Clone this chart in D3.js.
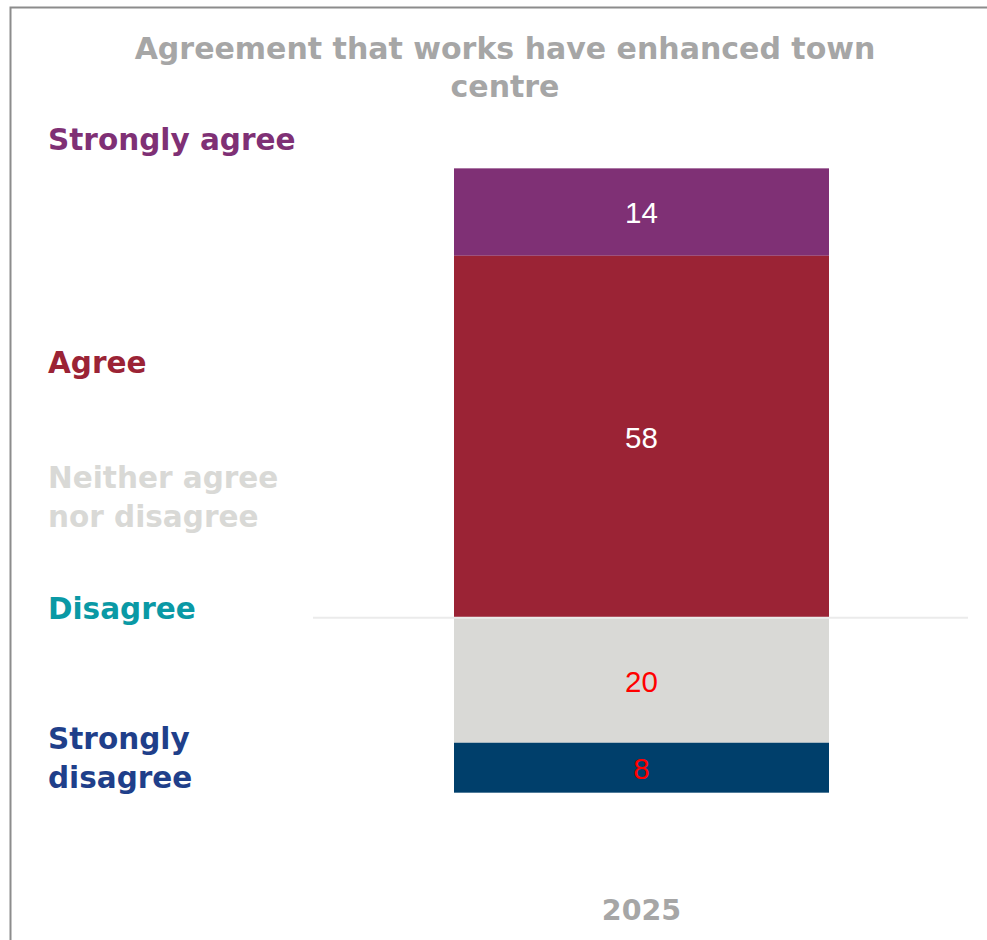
<!DOCTYPE html>
<html>
<head>
<meta charset="utf-8">
<script src="https://cdn.jsdelivr.net/npm/d3@7"></script>
<style>
  html, body { margin: 0; padding: 0; background: #fff; }
  svg { display: block; }
</style>
</head>
<body>
<svg id="chart" width="987" height="940"></svg>
<script>
// Survey responses for a single year, stacked around zero
const years = ["2025"];
const responses = ["Strongly agree", "Agree", "Neither agree nor disagree", "Disagree", "Strongly disagree"];
const values2025 = [14, 58, 20, 0, 8];
// agreement stacks above the zero line, the rest below it
const direction = [1, 1, -1, -1, -1];
const barColors = ["#7f3075", "#9b2335", "#d9d9d6", "#0097a7", "#003f6b"];
const labelColors = ["#7f3075", "#9b2335", "#d9d9d6", "#0a99a5", "#1f3f8a"];
const valueColors = ["#ffffff", "#ffffff", "#ff0000", "#ff0000", "#ff0000"];
const legendLines = [["Strongly agree"], ["Agree"], ["Neither agree", "nor disagree"], ["Disagree"], ["Strongly", "disagree"]];
const titleLines = ["Agreement that works have enhanced town", "centre"];

const svg = d3.select("#chart");
const W = 987, H = 940;

// frame on the top and left edges
svg.append("path")
  .attr("d", `M10.5,${H} V7.5 H${W}`)
  .attr("fill", "none")
  .attr("stroke", "#8c8c8c")
  .attr("stroke-width", 2);

const y = d3.scaleLinear().domain([-40, 80]).range([867.6, 118.4]);
const x = d3.scaleBand().domain(years).range([454, 829]).padding(0);

// build stacked segments: agreement grows upward from zero (Agree first),
// the remaining answers grow downward from zero
const segments = responses.map((r, i) => ({ name: r, value: values2025[i], i }));
let posBase = 0;
for (let i = responses.length - 1; i >= 0; i--) {
  if (direction[i] > 0) {
    segments[i].y0 = posBase;
    segments[i].y1 = posBase + values2025[i];
    posBase = segments[i].y1;
  }
}
let negBase = 0;
for (let i = 0; i < responses.length; i++) {
  if (direction[i] < 0) {
    segments[i].y1 = negBase;
    segments[i].y0 = negBase - values2025[i];
    negBase = segments[i].y0;
  }
}

const font = "'DejaVu Sans', sans-serif";

// title
svg.append("g").selectAll("text")
  .data(titleLines)
  .join("text")
  .attr("x", 505)
  .attr("y", (d, i) => 59 + i * 38)
  .attr("text-anchor", "middle")
  .attr("font-family", font)
  .attr("font-weight", "bold")
  .attr("font-size", 30)
  .attr("fill", "#a6a6a6")
  .text(d => d);

// bars
svg.append("g").selectAll("rect")
  .data(segments.filter(d => d.value > 0))
  .join("rect")
  .attr("x", x("2025"))
  .attr("width", x.bandwidth())
  .attr("y", d => y(d.y1))
  .attr("height", d => y(d.y0) - y(d.y1))
  .attr("fill", d => barColors[d.i]);

// zero line
svg.append("line")
  .attr("x1", 313).attr("x2", 968)
  .attr("y1", y(0)).attr("y2", y(0))
  .attr("stroke", "#ebebeb")
  .attr("stroke-width", 2);

// value labels
svg.append("g").selectAll("text")
  .data(segments.filter(d => d.value > 0))
  .join("text")
  .attr("x", x("2025") + x.bandwidth() / 2)
  .attr("y", d => (y(d.y0) + y(d.y1)) / 2)
  .attr("dy", "0.38em")
  .attr("text-anchor", "middle")
  .attr("font-family", "'Liberation Sans', Arial, sans-serif")
  .attr("font-size", 29.5)
  .attr("fill", d => valueColors[d.i])
  .text(d => d.value);

// category labels on the left
const legendTop = [150, 373, 488, 619, 749];
const legend = svg.append("g");
legendLines.forEach((lines, i) => {
  legend.append("text")
    .attr("x", 48)
    .attr("y", legendTop[i])
    .attr("font-family", font)
    .attr("font-weight", "bold")
    .attr("font-size", 29.5)
    .attr("fill", labelColors[i])
    .selectAll("tspan")
    .data(lines)
    .join("tspan")
    .attr("x", 48)
    .attr("dy", (d, j) => j === 0 ? 0 : 39)
    .text(d => d);
});

// year label
svg.append("text")
  .attr("x", x("2025") + x.bandwidth() / 2)
  .attr("y", 920)
  .attr("text-anchor", "middle")
  .attr("font-family", font)
  .attr("font-weight", "bold")
  .attr("font-size", 28.5)
  .attr("fill", "#a6a6a6")
  .text(years[0]);
</script>
</body>
</html>
